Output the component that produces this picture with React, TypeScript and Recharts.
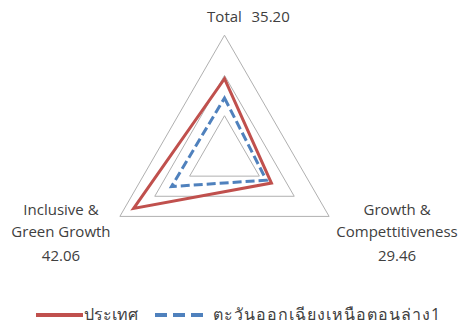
import React from 'react';
import {
  RadarChart,
  Radar,
  PolarGrid,
  PolarAngleAxis,
  PolarRadiusAxis,
  Legend,
} from 'recharts';

const categories = ['Total', 'Growth & Competitiveness', 'Inclusive & Green Growth'];
const categoryLines = [['Total'], ['Growth &', 'Compettitiveness'], ['Inclusive &', 'Green Growth']];
const scoreLabels = ['35.20', '29.46', '42.06'];
const countryValues = [35.2, 29.46, 42.06];
const regionValues = [30.4, 28.0, 31.2];
const seriesNames = ['ประเทศ', 'ตะวันออกเฉียงเหนือตอนล่าง1'];
const radiusDomain = [16, 46];

const FONT = '"Open Sans", "Noto Sans", sans-serif';
const TEXT = '#404040';
const RED = '#c0504d';
const BLUE = '#4f81bd';

const data = categories.map((name, i) => ({
  name,
  country: countryValues[i],
  region: regionValues[i],
}));

function AngleTick(props: any) {
  const { x, y, payload } = props;
  const i = payload.index;
  const style = { fontFamily: FONT, fontSize: 15, fill: TEXT };
  if (i === 0) {
    return (
      <g>
        <text x={x} y={y - 5} textAnchor="middle" {...style}>
          {categoryLines[0][0]}
        </text>
        <text x={x + 27} y={y - 5} textAnchor="start" {...style}>
          {scoreLabels[0]}
        </text>
      </g>
    );
  }
  // label blocks sit out to the side of the lower corners
  const dx = i === 1 ? 61 : -52;
  const lines = [...categoryLines[i], scoreLabels[i]];
  return (
    <g>
      {lines.map((line, k) => (
        <text key={k} x={x + dx} y={y - 5 + k * 22 + (k === 2 ? 2 : 0)} textAnchor="middle" {...style}>
          {line}
        </text>
      ))}
    </g>
  );
}

const item = { flexShrink: 0, whiteSpace: 'nowrap' as const };

function LegendContent() {
  return (
    <div
      style={{
        display: 'flex',
        alignItems: 'center',
        paddingLeft: 36,
        width: 462,
        boxSizing: 'border-box',
        fontFamily: FONT,
        fontSize: 16,
        color: TEXT,
      }}
    >
      <svg width={47} height={10} style={item}>
        <line x1={0} y1={5} x2={47} y2={5} stroke={RED} strokeWidth={4} />
      </svg>
      <span style={{ ...item, display: 'inline-block', marginLeft: 1, width: 71 }}>{seriesNames[0]}</span>
      <svg width={50} height={10} style={item}>
        <line x1={0} y1={5} x2={50} y2={5} stroke={BLUE} strokeWidth={4} strokeDasharray="12 6" />
      </svg>
      <span style={{ ...item, marginLeft: 8, letterSpacing: 1 }}>{seriesNames[1]}</span>
    </div>
  );
}

export default function App() {
  return (
    <div style={{ position: 'absolute', left: 0, top: 0, width: 462, height: 329, background: '#fff' }}>
      <RadarChart
        width={462}
        height={329}
        data={data}
        cx={224.5}
        cy={156}
        outerRadius={120.8}
        margin={{ top: 0, right: 0, bottom: 0, left: 0 }}
      >
        <PolarGrid gridType="polygon" radialLines={false} stroke="#b0b0b0" />
        <PolarAngleAxis dataKey="name" tick={<AngleTick />} tickLine={false} axisLine={false} />
        <PolarRadiusAxis
          type="number"
          domain={radiusDomain}
          tickCount={4}
          tick={false}
          axisLine={false}
        />
        <Radar
          name={seriesNames[0]}
          dataKey="country"
          stroke={RED}
          strokeWidth={3}
          fill="none"
          fillOpacity={0}
          dot={false}
          isAnimationActive={false}
        />
        <Radar
          name={seriesNames[1]}
          dataKey="region"
          stroke={BLUE}
          strokeWidth={3}
          strokeDasharray="9 4"
          fill="none"
          fillOpacity={0}
          dot={false}
          isAnimationActive={false}
        />
        <Legend
          content={<LegendContent />}
          wrapperStyle={{ left: 0, top: 302, width: 462 }}
        />
      </RadarChart>
    </div>
  );
}
